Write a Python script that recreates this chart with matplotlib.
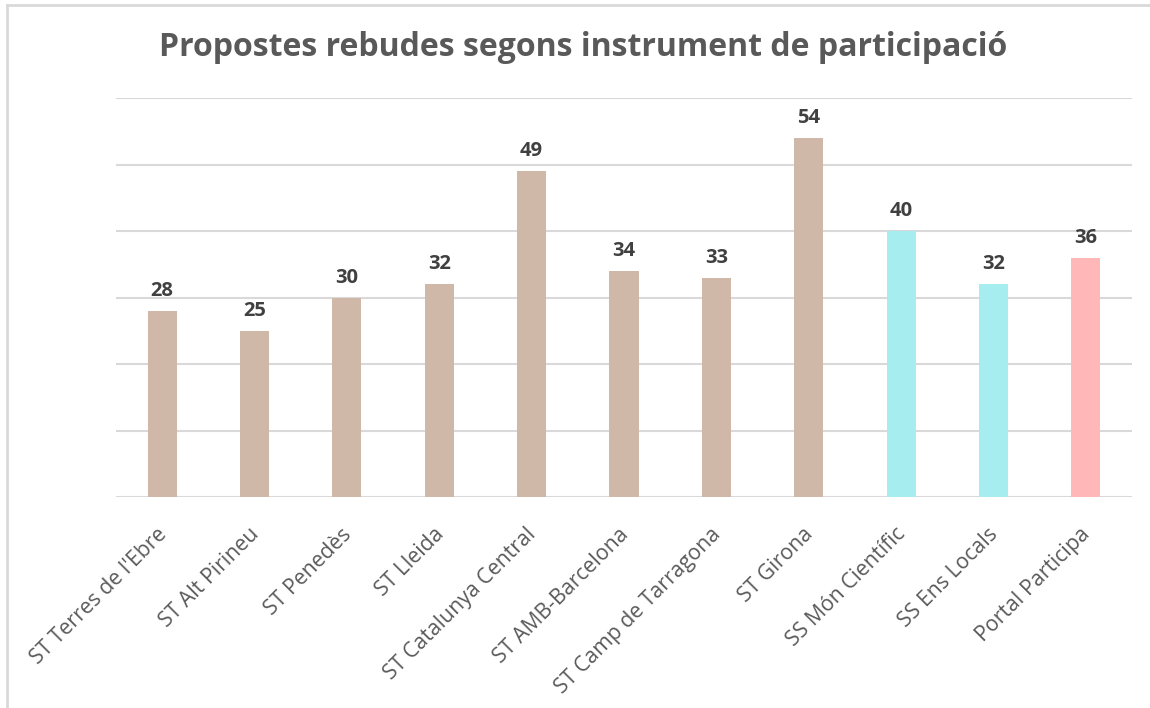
import numpy as np
import matplotlib.pyplot as plt
from matplotlib.lines import Line2D
from matplotlib.transforms import ScaledTranslation

# DATA
categories = ["ST Terres de l'Ebre", "ST Alt Pirineu", "ST Penedès", "ST Lleida",
              "ST Catalunya Central", "ST AMB-Barcelona", "ST Camp de Tarragona",
              "ST Girona", "SS Món Científic", "SS Ens Locals", "Portal Participa"]
values = [28, 25, 30, 32, 49, 34, 33, 54, 40, 32, 36]
groups = ["ST"] * 8 + ["SS"] * 2 + ["Portal"]
title = "Propostes rebudes segons instrument de participació"

# STYLE
group_colors = {"ST": "#D0B8A8", "SS": "#A5EDEF", "Portal": "#FFB7B7"}
TEXT = "#595959"
GRID = "#D9D9D9"
plt.rcParams['font.family'] = ['Open Sans', 'DejaVu Sans']

fig = plt.figure(figsize=(11.5, 7.08), dpi=100)
ax = fig.add_axes([116 / 1150, 1 - 497 / 708, 1016 / 1150, 399 / 708])

x = np.arange(len(categories))
colors = [group_colors[g] for g in groups]
bars = ax.bar(x, values, width=0.315, color=colors, zorder=3)

for xi, v in zip(x, values):
    ax.text(xi, v + 1.5, str(v), ha='center', va='bottom', fontsize=14.5,
            fontweight='bold', color="#404040")

ax.set_xlim(-0.5, len(categories) - 0.5)
ax.set_ylim(0, 60)
ax.set_yticks(np.arange(0, 61, 10))
ax.yaxis.grid(True, color=GRID, linewidth=1.5, zorder=0)
ax.tick_params(axis='y', left=False, labelleft=False)
ax.tick_params(axis='x', bottom=False, pad=0)
for s in ax.spines.values():
    s.set_visible(False)
ax.set_xticks(x)
ax.set_xticklabels(categories, rotation=45, ha='right', va='top', rotation_mode='anchor',
                   fontsize=15.3, color=TEXT)
# nudge rotated labels so their ends sit just under the bars
shift = ScaledTranslation(-6 / 100, -22 / 100, fig.dpi_scale_trans)
for lbl in ax.get_xticklabels():
    lbl.set_transform(lbl.get_transform() + shift)

fig.text(583 / 1150, 1 - 48 / 708, title, ha='center', va='center', fontsize=23,
         fontweight='bold', color=TEXT)

# chart frame (top and left edges visible)
fig.add_artist(Line2D([7 / 1150, 1], [1 - 5 / 708, 1 - 5 / 708], color=GRID, linewidth=2))
fig.add_artist(Line2D([7 / 1150, 7 / 1150], [0, 1 - 5 / 708], color=GRID, linewidth=2))

fig.savefig("out.png", dpi=100)
